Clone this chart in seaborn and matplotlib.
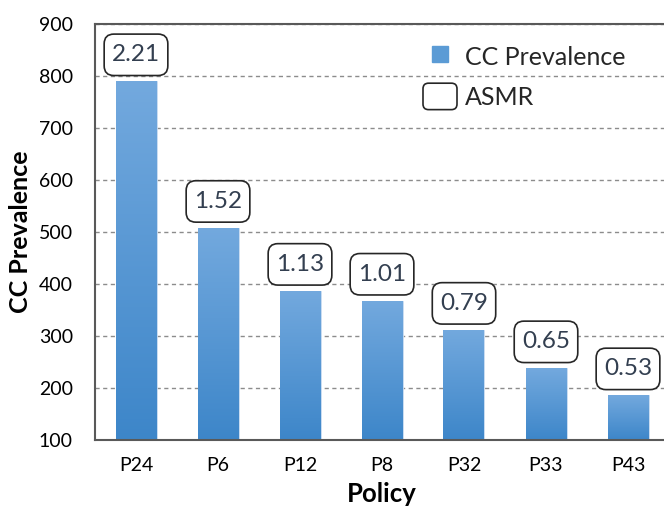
import numpy as np
import pandas as pd
import matplotlib
matplotlib.use("Agg")
import matplotlib.pyplot as plt
import seaborn as sns
from matplotlib.patches import FancyBboxPatch, BoxStyle
from matplotlib.lines import Line2D
from matplotlib.legend_handler import HandlerPatch
from matplotlib.colors import LinearSegmentedColormap

# Data
policies = ["P24", "P6", "P12", "P8", "P32", "P33", "P43"]
prevalence = [790, 508, 387, 368, 312, 238, 186]
asmr = [2.21, 1.52, 1.13, 1.01, 0.79, 0.65, 0.53]
y_ticks = [100, 200, 300, 400, 500, 600, 700, 800, 900]

sns.set_theme(style="white")
plt.rcParams["font.family"] = ["Lato", "DejaVu Sans"]

df = pd.DataFrame({"Policy": policies, "CC Prevalence": prevalence, "ASMR": asmr})

fig = plt.figure(figsize=(6.64, 5.08), dpi=100)
ax = fig.add_axes([95 / 664, 68 / 508, 574 / 664, 416 / 508])

sns.barplot(data=df, x="Policy", y="CC Prevalence", color="#5b9bd5",
            saturation=1, width=0.5, ax=ax, zorder=2)

ymin, ymax = 100, 900
ax.set_ylim(ymin, ymax)
ax.set_xlim(-0.5, len(policies) - 0.5)

# vertical gradient inside each bar
cmap = LinearSegmentedColormap.from_list("bar_grad", ["#3d86c9", "#73a9de"])
grad = np.linspace(0, 1, 256).reshape(-1, 1)
for p in list(ax.patches):
    x0, w = p.get_x(), p.get_width()
    top = p.get_y() + p.get_height()
    p.set_edgecolor("#cfe0f3")
    p.set_linewidth(0.6)
    im = ax.imshow(grad, cmap=cmap, origin="lower", aspect="auto",
                   extent=[x0, x0 + w, ymin, top], zorder=2.1)
    im.set_clip_path(p)
ax.set_xlim(-0.5, len(policies) - 0.5)
ax.set_ylim(ymin, ymax)
ax.set_aspect("auto")


# rounded callout box with separate horizontal / vertical padding
_round = BoxStyle.Round(pad=0, rounding_size=0.4)


def callout_box(x0, y0, width, height, mutation_size):
    px, py = 0.32 * mutation_size, 0.42 * mutation_size
    return _round(x0 - px, y0 - py, width + 2 * px, height + 2 * py, mutation_size)


# value labels in rounded boxes
for i, (v, a) in enumerate(zip(prevalence, asmr)):
    ax.annotate(f"{a:.2f}", xy=(i, v), xytext=(0, 19), textcoords="offset points",
                ha="center", va="center", fontsize=17.5, color="#333f50", zorder=5,
                bbox=dict(boxstyle=callout_box, fc="white", ec="#262626", lw=1.2))

# axes styling
ax.set_yticks(y_ticks)
ax.yaxis.grid(True, linestyle=(0, (3, 2.5)), color="#8c8c8c", lw=1, zorder=0)
ax.set_axisbelow(True)
for side in ["left", "bottom", "top"]:
    ax.spines[side].set_color("#595959")
    ax.spines[side].set_linewidth(1.5)
ax.spines["right"].set_visible(False)
ax.tick_params(axis="y", length=0, pad=16, labelsize=14, labelcolor="#000000")
ax.tick_params(axis="x", length=0, pad=12, labelsize=14, labelcolor="#000000")
ax.set_ylabel("CC Prevalence", fontsize=18, fontweight="bold", color="#000000", labelpad=5)
ax.set_xlabel("Policy", fontsize=18.5, fontweight="bold", color="#000000", labelpad=6)


class RoundBoxHandler(HandlerPatch):
    def create_artists(self, legend, orig_handle, xdescent, ydescent,
                       width, height, fontsize, trans):
        box = FancyBboxPatch((-xdescent, -ydescent), width, height,
                             boxstyle="round,pad=0,rounding_size=4",
                             fc="white", ec="#262626", lw=1.2, transform=trans)
        return [box]


handles = [
    Line2D([], [], marker="s", linestyle="none", markersize=11,
           markerfacecolor="#5b9bd5", markeredgecolor="#5b9bd5"),
    FancyBboxPatch((0, 0), 1, 1),
]
ax.legend(handles, ["CC Prevalence", "ASMR"], loc="upper left",
          bbox_to_anchor=(423 / 664, 1 - 43 / 508), bbox_transform=fig.transFigure,
          frameon=False, fontsize=18, handlelength=1.36, handleheight=1.25,
          handletextpad=0.32, labelspacing=0.55, borderpad=0, borderaxespad=0,
          handler_map={FancyBboxPatch: RoundBoxHandler()})

fig.savefig("out.png", dpi=100)
